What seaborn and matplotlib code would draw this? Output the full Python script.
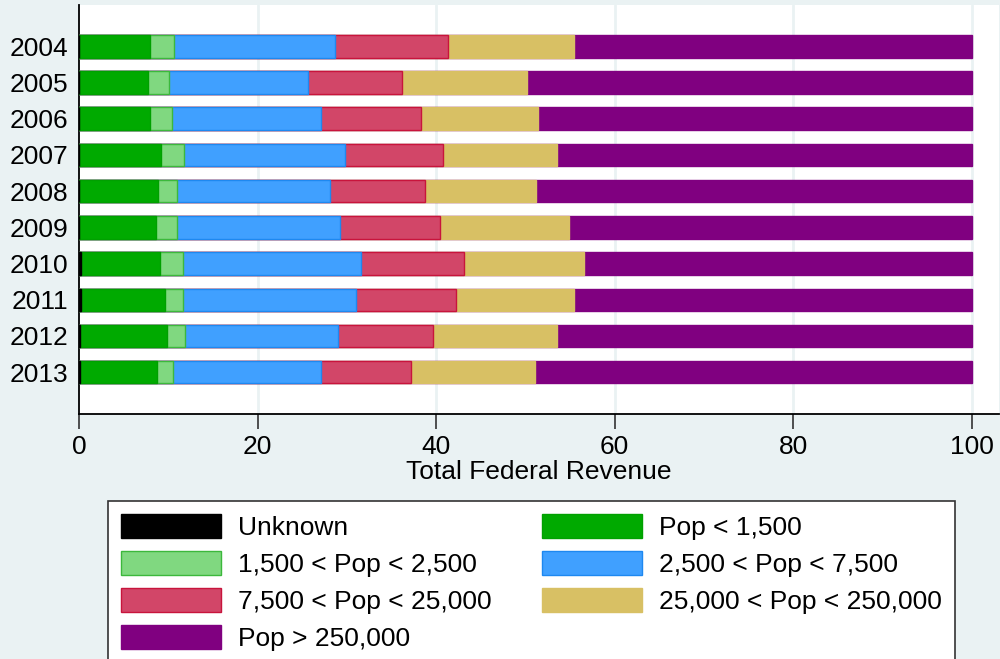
import numpy as np
import pandas as pd
import seaborn as sns
import matplotlib
matplotlib.use("Agg")
import matplotlib.pyplot as plt
from matplotlib.patches import Patch

years = ["2004", "2005", "2006", "2007", "2008", "2009", "2010", "2011", "2012", "2013"]

categories = ["Unknown", "Pop < 1,500", "1,500 < Pop < 2,500", "2,500 < Pop < 7,500",
              "7,500 < Pop < 25,000", "25,000 < Pop < 250,000", "Pop > 250,000"]

unknown   = [0.0, 0.0, 0.0, 0.0, 0.0, 0.0, 0.25, 0.25, 0.1, 0.1]
pop_1500  = [7.94, 7.76, 7.98, 9.21, 8.88, 8.58, 8.81, 9.34, 9.75, 8.63]
pop_2500  = [2.69, 2.31, 2.39, 2.50, 2.05, 2.35, 2.61, 2.08, 1.98, 1.75]
pop_7500  = [18.07, 15.53, 16.73, 18.14, 17.21, 18.33, 19.90, 19.33, 17.13, 16.58]
pop_25000 = [12.60, 10.60, 11.20, 10.95, 10.56, 11.20, 11.53, 11.25, 10.74, 10.14]
pop_250k  = [14.20, 14.00, 13.10, 12.70, 12.47, 14.44, 13.50, 13.25, 13.80, 13.90]
pop_big   = [44.50, 49.80, 48.60, 46.50, 48.83, 45.10, 43.40, 44.50, 46.50, 48.90]

series = [unknown, pop_1500, pop_2500, pop_7500, pop_25000, pop_250k, pop_big]

fills = ["#000000", "#00AA00", "#80D880", "#40A0FF", "#D24668", "#D8C064", "#800080"]
edges = ["#000000", "#00A000", "#3CB83C", "#1E88F0", "#C8143C", "#D8C064", "#800080"]

bg = "#EAF2F3"

df = pd.DataFrame({"year": years})
for name, vals in zip(categories, series):
    df[name] = vals
cum = df[categories].cumsum(axis=1)

sns.set_theme(style="white")
plt.rcParams['font.family'] = ['Liberation Sans', 'DejaVu Sans']
plt.rcParams['text.color'] = 'black'
plt.rcParams['xtick.color'] = 'black'
plt.rcParams['ytick.color'] = 'black'
plt.rcParams['axes.labelcolor'] = 'black'

fig = plt.figure(figsize=(10, 6.59), dpi=100, facecolor=bg)
ax = fig.add_axes([0.079, 1 - 414 / 659, 0.999 - 0.079, (414 - 5) / 659])
ax.set_facecolor("white")

# vertical grid lines
for g in [20, 40, 60, 80, 100]:
    ax.axvline(g, color=bg, lw=2, zorder=0)

# stacked bars: draw cumulative totals from the outermost segment inward
for i in range(len(categories) - 1, -1, -1):
    plot_df = pd.DataFrame({"year": years, "val": cum[categories[i]].values})
    sns.barplot(data=plot_df, y="year", x="val", orient="h", ax=ax,
                color=fills[i], edgecolor=edges[i], linewidth=1.0,
                width=0.62, saturation=1, zorder=2 + (len(categories) - i))

ax.set_xlim(0, 103.05)
ax.set_ylim(9 + 1.155, -1.14)
ax.set_xticks([0, 20, 40, 60, 80, 100])
ax.set_xticklabels(["0", "20", "40", "60", "80", "100"], fontsize=19)
ax.tick_params(axis="x", length=11, width=1.2, color="#333333", pad=4, bottom=True)
ax.tick_params(axis="y", length=0, pad=8, labelsize=19)
ax.set_ylabel("")
ax.set_xlabel("Total Federal Revenue", fontsize=19, labelpad=1)

for side in ["top", "right"]:
    ax.spines[side].set_visible(False)
for side in ["left", "bottom"]:
    ax.spines[side].set_visible(True)
    ax.spines[side].set_color("#000000")
    ax.spines[side].set_linewidth(1.3)

# legend, row-major order like the reference (2 columns)
handles = [Patch(facecolor=fills[i], edgecolor=edges[i], linewidth=1.0) for i in range(len(categories))]
order = [0, 2, 4, 6, 1, 3, 5]
leg = fig.legend([handles[k] for k in order], [categories[k] for k in order],
                 ncol=2, loc="upper left", bbox_to_anchor=(0.108, 1 - 501 / 659),
                 fontsize=19, frameon=True, fancybox=False, framealpha=1,
                 handlelength=3.8, handleheight=1.02, handletextpad=0.64,
                 columnspacing=1.88, labelspacing=0.42, borderpad=0.5,
                 borderaxespad=0)
leg.get_frame().set_edgecolor("#333333")
leg.get_frame().set_linewidth(1.2)
leg.get_frame().set_facecolor("white")

fig.savefig("out.png", dpi=100, facecolor=bg)
